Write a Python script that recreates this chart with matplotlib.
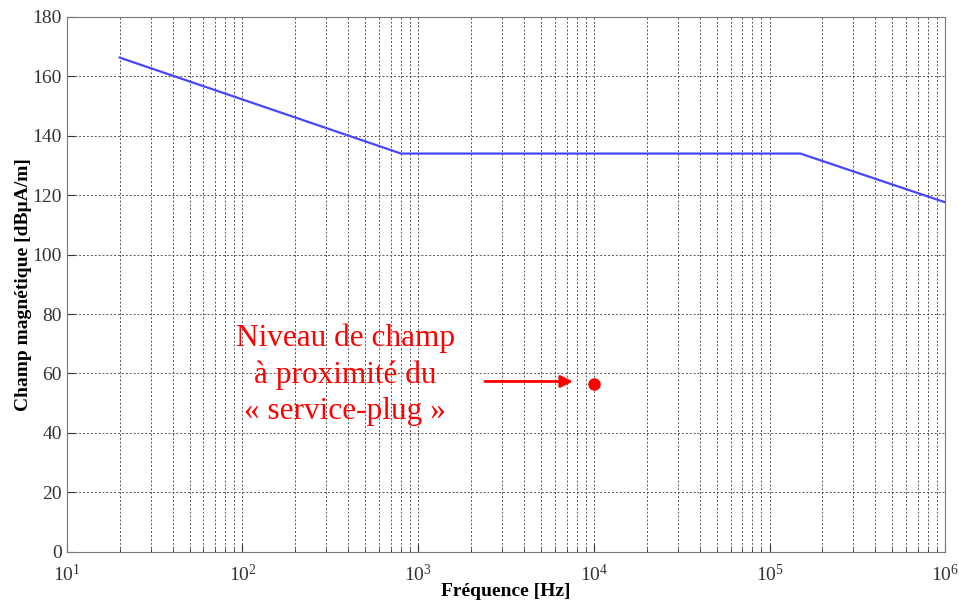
import matplotlib.pyplot as plt
import numpy as np

# gabarit du champ magnetique (frequence en Hz, niveau en dBuA/m)
freq = [20, 800, 150e3, 1e6]
level = [166.3, 134.0, 134.0, 117.6]

# point mesure pres du service-plug
meas_freq = [1e4]
meas_level = [56.5]

plt.rcParams['font.family'] = ['Liberation Serif', 'DejaVu Serif']
plt.rcParams['mathtext.fontset'] = 'stix'

fig = plt.figure(figsize=(9.59, 6.03), dpi=100)
ax = fig.add_axes([0.0696, 0.085, 0.916, 0.887])

ax.semilogx(freq, level, color='#4646ff', lw=1.6)
ax.plot(meas_freq, meas_level, 'o', color='red', ms=8)

ax.annotate('', xy=(7600, 57.3), xytext=(2400, 57.3),
            arrowprops=dict(arrowstyle='-|>', color='red', lw=2,
                            mutation_scale=18, shrinkA=0, shrinkB=0))
ax.text(385, 59.5, 'Niveau de champ\nà proximité du\n« service-plug »',
        color='red', fontsize=22.5, ha='center', va='center', linespacing=1.32)

ax.set_xlim(10, 1e6)
ax.set_ylim(0, 180)
ax.set_yticks(np.arange(0, 181, 20))
ax.grid(True, which='both', ls=(0, (2, 2)), color='#555555', lw=0.7)
ax.tick_params(which='both', direction='in', labelsize=14, colors='#333333')
ax.tick_params(axis='x', pad=9)
ax.tick_params(which='major', length=6)
ax.tick_params(which='minor', length=3)
for s in ax.spines.values():
    s.set_color('#777777')

ax.set_xlabel('Fréquence [Hz]', fontsize=14, fontweight='bold', labelpad=-2)
ax.set_ylabel('Champ magnétique [dBµA/m]', fontsize=14, fontweight='bold', labelpad=0)

fig.savefig('out.png', dpi=100)
